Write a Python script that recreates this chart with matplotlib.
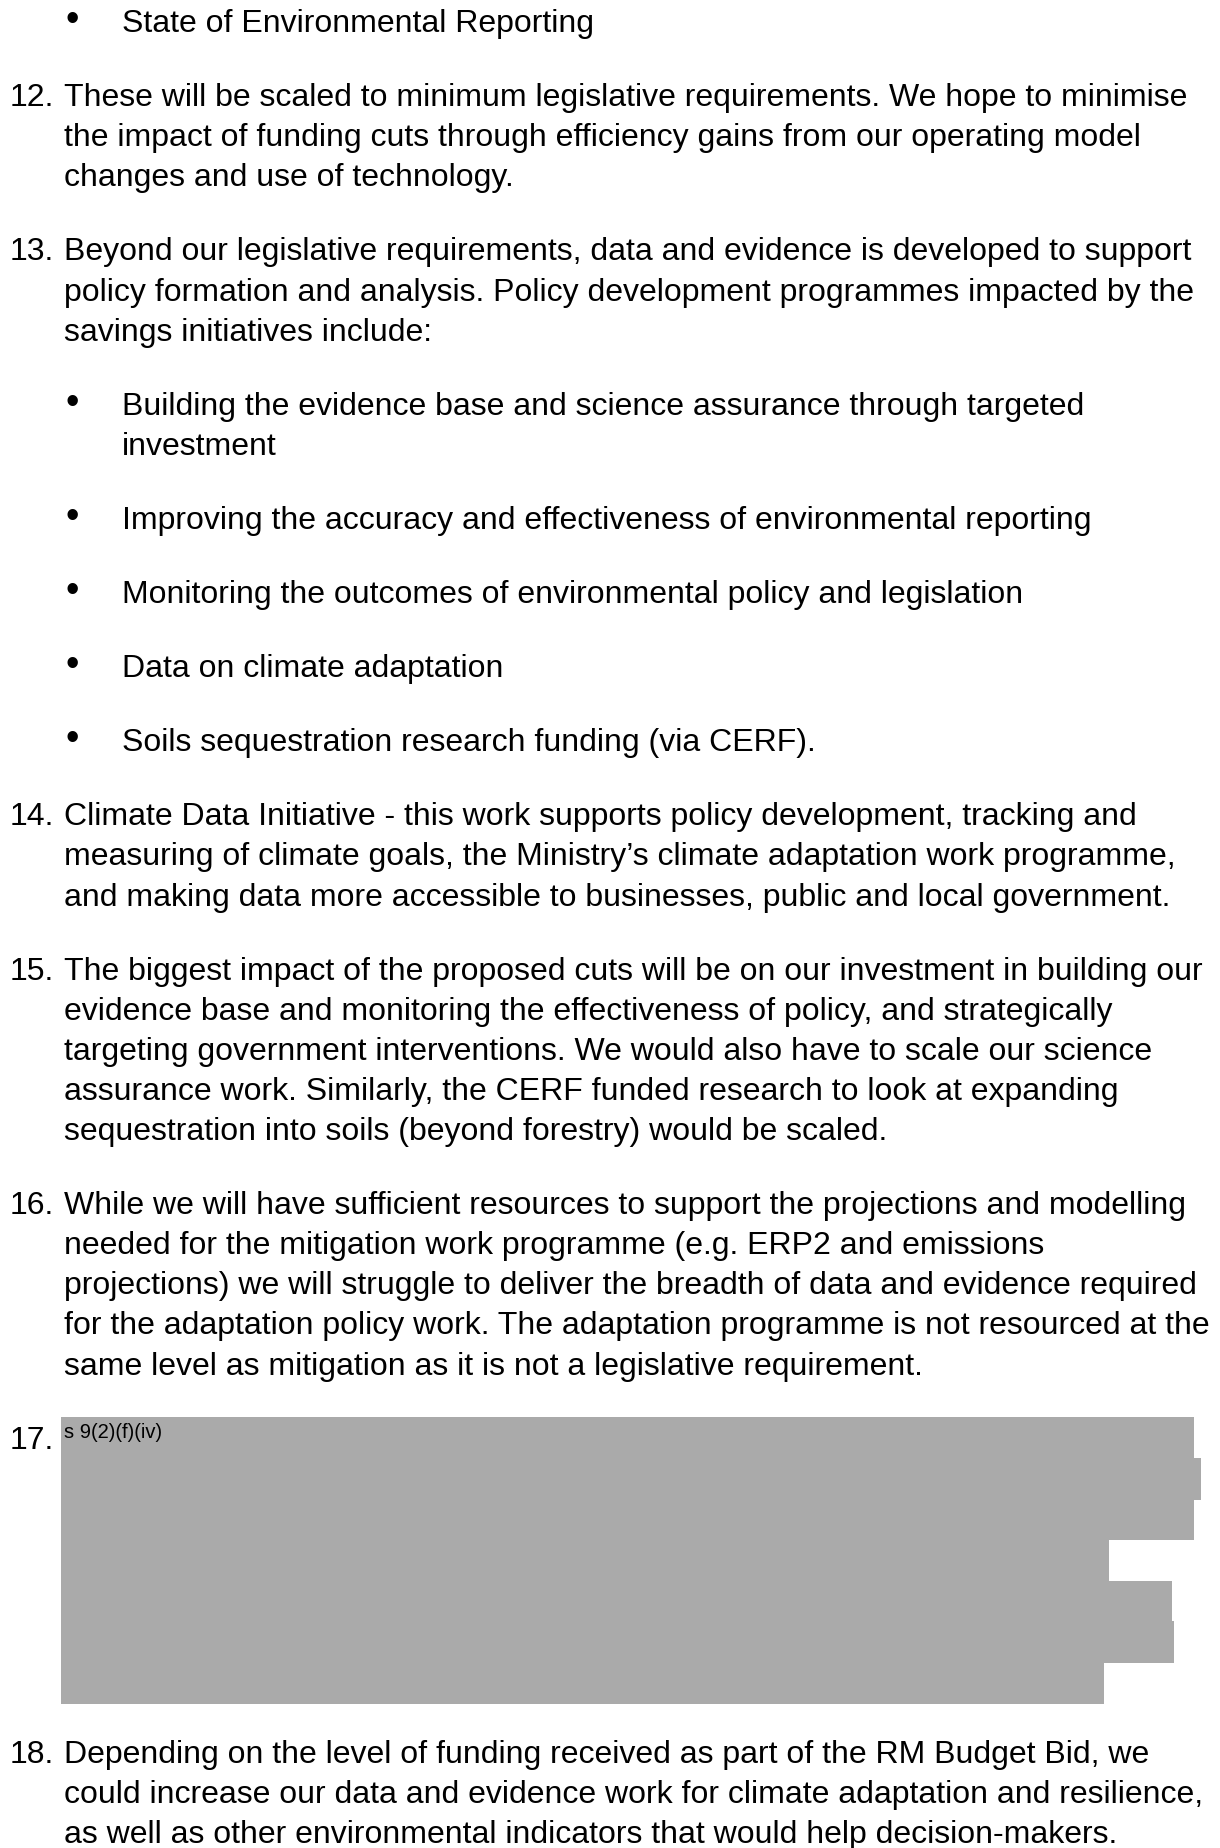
#!/usr/bin/python
# page of a funding-cuts briefing: numbered paragraphs, bullets and one redacted block
import numpy as np
import matplotlib
matplotlib.use('Agg')
import matplotlib.pyplot as plt

plt.rcParams['font.family'] = ['Liberation Sans', 'DejaVu Sans']

# each paragraph: (label, kind, lines)   kind: 'bullet', 'num' or 'redact'
para_labels = ['', '12.', '13.', '', '', '', '', '', '14.', '15.', '16.', '17.', '18.']
para_kinds = ['bullet', 'num', 'num', 'bullet', 'bullet', 'bullet', 'bullet', 'bullet',
              'num', 'num', 'num', 'redact', 'num']
para_lines = [
    ['State of Environmental Reporting'],
    ['These will be scaled to minimum legislative requirements. We hope to minimise',
     'the impact of funding cuts through efficiency gains from our operating model',
     'changes and use of technology.'],
    ['Beyond our legislative requirements, data and evidence is developed to support',
     'policy formation and analysis. Policy development programmes impacted by the',
     'savings initiatives include:'],
    ['Building the evidence base and science assurance through targeted',
     'investment'],
    ['Improving the accuracy and effectiveness of environmental reporting'],
    ['Monitoring the outcomes of environmental policy and legislation'],
    ['Data on climate adaptation'],
    ['Soils sequestration research funding (via CERF).'],
    ['Climate Data Initiative - this work supports policy development, tracking and',
     'measuring of climate goals, the Ministry\u2019s climate adaptation work programme,',
     'and making data more accessible to businesses, public and local government.'],
    ['The biggest impact of the proposed cuts will be on our investment in building our',
     'evidence base and monitoring the effectiveness of policy, and strategically',
     'targeting government interventions. We would also have to scale our science',
     'assurance work. Similarly, the CERF funded research to look at expanding',
     'sequestration into soils (beyond forestry) would be scaled.'],
    ['While we will have sufficient resources to support the projections and modelling',
     'needed for the mitigation work programme (e.g. ERP2 and emissions',
     'projections) we will struggle to deliver the breadth of data and evidence required',
     'for the adaptation policy work. The adaptation programme is not resourced at the',
     'same level as mitigation as it is not a legislative requirement.'],
    ['', '', '', '', '', '', ''],
    ['Depending on the level of funding received as part of the RM Budget Bid, we',
     'could increase our data and evidence work for climate adaptation and resilience,',
     'as well as other environmental indicators that would help decision-makers.'],
]

redact_tag = 's 9(2)(f)(iv)'
# right edge of each grey redaction row (px)
redact_right = [1194, 1201, 1194, 1109, 1172, 1174, 1104]

W, H = 1220, 1849
fig = plt.figure(figsize=(W/100, H/100), dpi=100)
ax = fig.add_axes([0, 0, 1, 1])
ax.set_xlim(0, W)
ax.set_ylim(H, 0)
ax.axis('off')

fs = 23.0          # ~32px Arial
lineStep = 40.1    # baseline to baseline
paraGap = 34.0     # extra space between paragraphs
y0 = 32.0          # first baseline
numX, textX = 10, 64
bulletX, bulletTextX = 72, 122
redactLeft = 61
redactRow = 40.8

k = 0
for p, (lab, kind, lines) in enumerate(zip(para_labels, para_kinds, para_lines)):
  first = y0 + k*lineStep + p*paraGap
  if kind == 'bullet':
    ax.text(bulletX, first - 1, '\u2022', fontsize=fs*1.2, ha='center', va='baseline', color='black')
    for i, s in enumerate(lines):
      ax.text(bulletTextX, first + i*lineStep, s, fontsize=fs, va='baseline', color='black')
  elif kind == 'num':
    ax.text(numX, first, lab, fontsize=fs, va='baseline', color='black')
    for i, s in enumerate(lines):
      ax.text(textX, first + i*lineStep, s, fontsize=fs, va='baseline', color='black')
  else:
    ax.text(numX, first, lab, fontsize=fs, va='baseline', color='black')
    rows = np.arange(len(redact_right))
    tops = first - 30 + rows*redactRow
    ax.barh(tops + redactRow/2, np.array(redact_right) - redactLeft, left=redactLeft,
            height=redactRow + 0.6, color='#aaaaaa', edgecolor='none', zorder=1)
    ax.text(redactLeft + 3, first - 11, redact_tag, fontsize=14.5, va='baseline',
            color='black', zorder=2)
  k += len(lines)

fig.savefig('out.png', dpi=100)
